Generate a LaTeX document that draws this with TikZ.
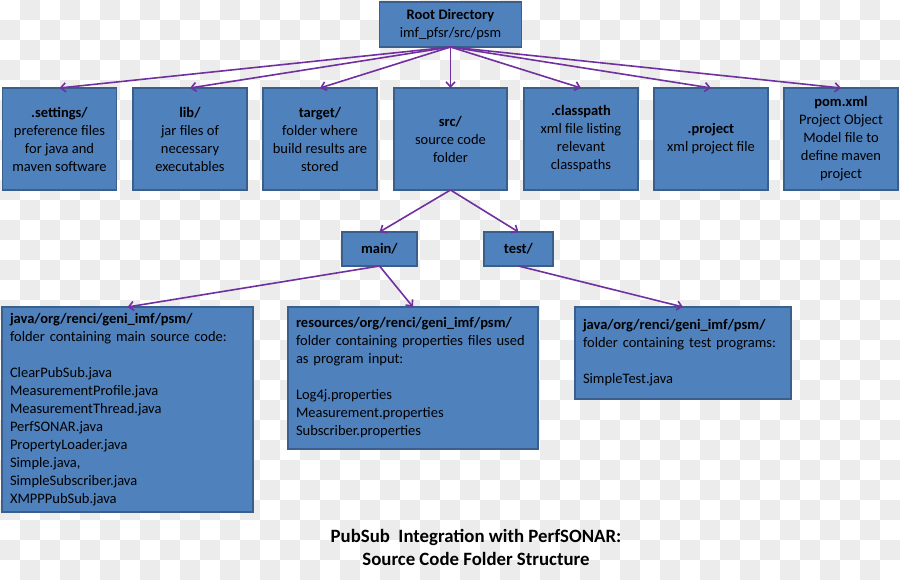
\documentclass[tikz,border=0pt]{standalone}
\usepackage{fontspec}
\setmainfont{Carlito}
\usetikzlibrary{arrows.meta}
\definecolor{boxfill}{HTML}{4F81BD}
\definecolor{boxline}{HTML}{3A5F8C}
\definecolor{arrowc}{HTML}{7030A0}
\definecolor{checkgray}{HTML}{ECECEC}
\tikzset{
  box/.style={draw=boxline, line width=1.3pt, fill=boxfill, rectangle,
    inner sep=0pt, outer sep=0pt, align=center, text=black,
    font=\fontsize{14.5}{18}\selectfont},
  listbox/.style={box, align=left, inner xsep=8pt},
  conn/.style={draw=arrowc, line width=1.6pt, -{Straight Barb[length=5pt,width=9pt]}},
  caption/.style={align=center, font=\fontsize{18.8}{23}\selectfont\bfseries, text=black}
}
\begin{document}
\begin{tikzpicture}[x=1pt,y=-1pt]
\useasboundingbox (0,0) rectangle (900,580);
\fill[white] (0,0) rectangle (900,580);
\foreach \i in {0,2,...,44} \foreach \j in {1,3,...,27} \fill[checkgray] (\i*20,\j*20) rectangle +(20,20);
\foreach \i in {1,3,...,43} \foreach \j in {0,2,...,28} \fill[checkgray] (\i*20,\j*20) rectangle +(20,20);

% root
\node[box, minimum width=142pt, minimum height=45pt] (root) at (450.5,24.5) {\textbf{Root Directory}\\imf\_pfsr/src/psm};

% first row
\node[box, minimum width=114pt, minimum height=102pt] (settings) at (59.5,139) {\textbf{.settings/}\\preference files\\for java and\\maven software};
\node[box, minimum width=114pt, minimum height=102pt] (lib) at (190,139) {\textbf{lib/}\\jar files of\\necessary\\executables};
\node[box, minimum width=114pt, minimum height=102pt] (target) at (320,139) {\textbf{target/}\\folder where\\build results are\\stored};
\node[box, minimum width=113pt, minimum height=102pt] (src) at (450.5,139) {\textbf{src/}\\source code\\folder};
\node[box, minimum width=114pt, minimum height=102pt] (classpath) at (581,139) {\textbf{.classpath}\\xml file listing\\relevant\\classpaths};
\node[box, minimum width=114pt, minimum height=102pt] (project) at (711,139) {\textbf{.project}\\xml project file};
\node[box, minimum width=114pt, minimum height=102pt] (pom) at (841,139) {\textbf{pom.xml}\\Project Object\\Model file to\\define maven\\project};

% second row
\node[box, minimum width=75pt, minimum height=34pt] (main) at (379.5,249) {\textbf{main/}};
\node[box, minimum width=69pt, minimum height=34pt] (test) at (518.5,249) {\textbf{test/}};

% third row
\node[listbox, text width=235pt, minimum height=205pt] (javamain) at (127.5,409.5) {\textbf{java/org/renci/geni\_imf/psm/}\\folder containing main source code:\\\mbox{}\\ClearPubSub.java\\MeasurementProfile.java\\MeasurementThread.java\\PerfSONAR.java\\PropertyLoader.java\\Simple.java,\\SimpleSubscriber.java\\XMPPPubSub.java};
\node[listbox, text width=234pt, minimum height=142pt] (resources) at (413,378) {\textbf{resources/org/renci/geni\_imf/psm/}\\folder containing properties files used\\as program input:\\\mbox{}\\Log4j.properties\\Measurement.properties\\Subscriber.properties};
\node[listbox, text width=200pt, minimum height=92pt] (javatest) at (683,353) {\textbf{java/org/renci/geni\_imf/psm/}\\folder containing test programs:\\\mbox{}\\SimpleTest.java};

% caption
\node[caption] (cap) at (476,547) {PubSub~ Integration with PerfSONAR:\\Source Code Folder Structure};

% connectors
\foreach \t in {settings,lib,target,src,classpath,project,pom}
  \draw[conn] (root.south) -- (\t.north);
\draw[conn] (src.south) -- (main.north);
\draw[conn] (src.south) -- (test.north);
\draw[conn] (main.south) -- (javamain.north);
\draw[conn] (main.south) -- (resources.north);
\draw[conn] (test.south) -- (javatest.north);
\end{tikzpicture}
\end{document}
